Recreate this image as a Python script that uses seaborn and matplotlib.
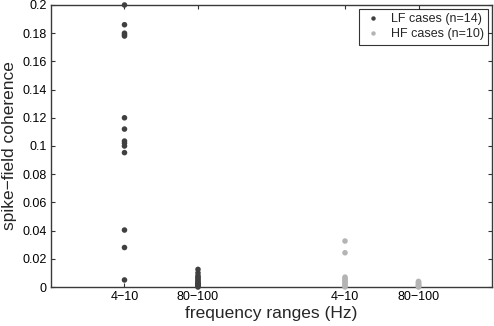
import numpy as np
import pandas as pd
import matplotlib
matplotlib.use("Agg")
import matplotlib.pyplot as plt
import seaborn as sns

# Data
freq_ranges = ["4\u221210", "80\u2212100"]
lf_4_10 = [0.200, 0.186, 0.180, 0.179, 0.178, 0.120, 0.112, 0.1035, 0.102, 0.100,
           0.0953, 0.0404, 0.028, 0.005]
lf_80_100 = [0.0125, 0.010, 0.008, 0.007, 0.006, 0.005, 0.004, 0.003, 0.0025,
             0.002, 0.0015, 0.001, 0.0005, 0.0]
hf_4_10 = [0.0326, 0.0243, 0.007, 0.006, 0.005, 0.004, 0.003, 0.002, 0.001, 0.0]
hf_80_100 = [0.004, 0.0035, 0.003, 0.0025, 0.002, 0.0015, 0.001, 0.0007, 0.0003, 0.0]
groups = ["LF cases (n=14)", "HF cases (n=10)"]
yticks = [0, 0.02, 0.04, 0.06, 0.08, 0.1, 0.12, 0.14, 0.16, 0.18, 0.2]
ytick_labels = ["0", "0.02", "0.04", "0.06", "0.08", "0.1", "0.12", "0.14",
                "0.16", "0.18", "0.2"]

slot = {("LF", 0): 1, ("LF", 1): 2, ("HF", 0): 4, ("HF", 1): 5}
rows = []
for g, lab, lists in [("LF", groups[0], [lf_4_10, lf_80_100]),
                      ("HF", groups[1], [hf_4_10, hf_80_100])]:
    for i, vals in enumerate(lists):
        for v in vals:
            rows.append({"pos": slot[(g, i)], "coh": v, "group": lab})
df = pd.DataFrame(rows)

sns.set_theme(style="white")
plt.rcParams["font.family"] = ["Liberation Sans", "DejaVu Sans"]

fig = plt.figure(figsize=(4.94, 3.26), dpi=100)
ax = fig.add_axes([0.1032, 0.1196, 0.8928, 0.8651])

sns.scatterplot(data=df, x="pos", y="coh", hue="group",
                palette={groups[0]: "#404040", groups[1]: "#b4b4b4"},
                s=16, linewidth=0, ax=ax, zorder=3, clip_on=False)

ax.set_xlim(0, 6)
ax.set_ylim(0, 0.2)
ax.set_xticks([1, 2, 4, 5])
ax.set_xticklabels(freq_ranges * 2, fontsize=9)
ax.set_yticks(yticks)
ax.set_yticklabels(ytick_labels, fontsize=9)
ax.set_xlabel("frequency ranges (Hz)", fontsize=12.5, labelpad=2)
ax.set_ylabel("spike\u2212field coherence", fontsize=12.5, labelpad=4)

for sp in ax.spines.values():
    sp.set_visible(True)
    sp.set_color("#3a3a3a")
    sp.set_linewidth(1.0)
ax.tick_params(direction="in", length=3, width=0.8, color="#333333",
               top=True, right=True, bottom=True, left=True, pad=3,
               labelcolor="black")

leg = ax.legend(loc="upper right", fontsize=9, frameon=True, fancybox=False,
                borderpad=0.35, handletextpad=0.6, markerscale=0.8,
                borderaxespad=0.3, labelspacing=0.25, handlelength=1.6)
leg.get_frame().set_edgecolor("black")
leg.get_frame().set_linewidth(0.8)

fig.savefig("out.png", dpi=100)
